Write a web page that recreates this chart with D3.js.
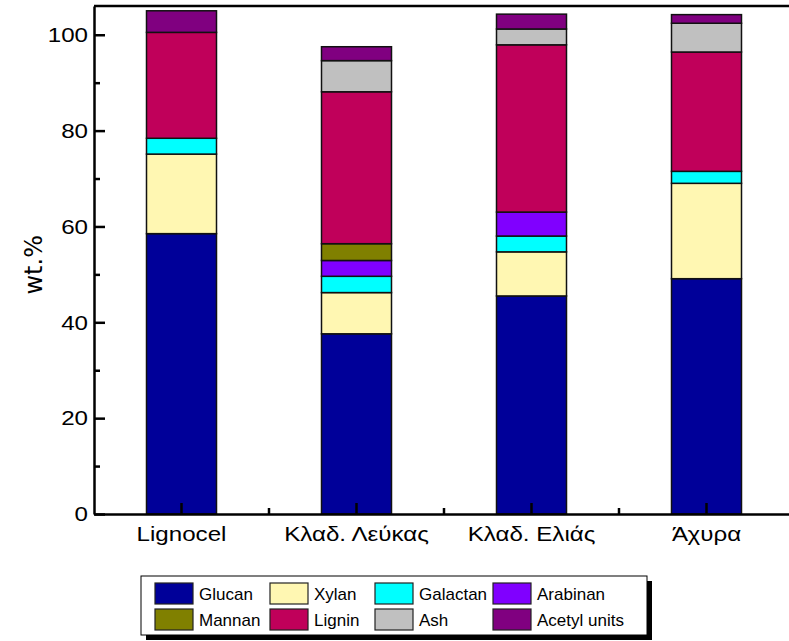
<!DOCTYPE html>
<html>
<head>
<meta charset="utf-8">
<script src="https://cdn.jsdelivr.net/npm/d3@7"></script>
<style>
  body { margin: 0; background: #fff; }
  svg { display: block; font-family: "Liberation Sans", Arial, sans-serif; }
</style>
</head>
<body>
<div id="chart-area"></div>
<script>
// samples on the x axis
const categories = ['Lignocel', 'Κλαδ. Λεύκας', 'Κλαδ. Ελιάς', 'Άχυρα'];

// components, bottom to top of each stack
const components = ['Glucan', 'Xylan', 'Galactan', 'Arabinan', 'Mannan', 'Lignin', 'Ash', 'Acetyl units'];
const colors = ['#000099', '#FFF7B2', '#00FFFF', '#8000FF', '#808000', '#C0005A', '#C0C0C0', '#800080'];

// wt.% per component, one value per sample (same order as categories)
const glucan   = [58.5, 37.6, 45.5, 49.1];
const xylan    = [16.6, 8.6, 9.2, 19.9];
const galactan = [3.3, 3.4, 3.3, 2.5];
const arabinan = [0, 3.3, 5.0, 0];
const mannan   = [0, 3.5, 0, 0];
const lignin   = [22.1, 31.7, 34.9, 24.9];
const ash      = [0, 6.5, 3.3, 6.0];
const acetyl   = [4.5, 2.9, 3.1, 1.8];

const yTicks = [0, 20, 40, 60, 80, 100];
const yMinorTicks = [10, 30, 50, 70, 90];

const seriesValues = [glucan, xylan, galactan, arabinan, mannan, lignin, ash, acetyl];

const margin = {left: 94, top: 6};
const width = 700;
const height = 508;
const stretch = 1.15; // axis labels in the original are a bit wide

const svg = d3.select('#chart-area')
    .append('svg')
    .attr('width', 789)
    .attr('height', 641);

const g = svg.append('g')
    .attr('transform', `translate(${margin.left}, ${margin.top})`);

// rows for the stack
const table = categories.map((c, i) => {
    const row = {name: c};
    components.forEach((k, j) => { row[k] = seriesValues[j][i]; });
    return row;
});
const stacked = d3.stack().keys(components)(table);

const x = d3.scaleBand()
    .domain(categories)
    .range([0, width])
    .padding(0);

const y = d3.scaleLinear()
    .domain([0, 106])
    .range([height, 0]);

const barW = x.bandwidth() * 0.4;

// bars
g.selectAll('.layer')
    .data(stacked)
    .enter().append('g')
        .attr('class', 'layer')
        .attr('fill', (d, i) => colors[i])
    .selectAll('rect')
    .data(d => d.filter(s => s[1] - s[0] > 0))
    .enter().append('rect')
        .attr('x', d => x(d.data.name) + (x.bandwidth() - barW) / 2)
        .attr('y', d => y(d[1]))
        .attr('width', barW)
        .attr('height', d => y(d[0]) - y(d[1]))
        .attr('stroke', '#111')
        .attr('stroke-width', 1.5);

// top frame line
g.append('line')
    .attr('x1', 0).attr('x2', width)
    .attr('y1', 0).attr('y2', 0)
    .attr('stroke', '#000')
    .attr('stroke-width', 2.5);

// y axis with inward ticks
const yAxisCall = d3.axisLeft(y)
    .tickValues(yTicks)
    .tickSizeInner(-11)
    .tickSizeOuter(0)
    .tickPadding(6);
const yAxis = g.append('g')
    .attr('class', 'y axis')
    .call(yAxisCall);
yAxis.select('.domain').attr('stroke-width', 2.5);
yAxis.selectAll('.tick line').attr('stroke-width', 2.5);
yAxis.selectAll('text')
    .attr('x', -6 / stretch)
    .attr('transform', `scale(${stretch}, 1)`)
    .attr('font-size', '21px')
    .attr('font-family', '"Liberation Sans", Arial, sans-serif')
    .attr('fill', '#000');

const yMinorCall = d3.axisLeft(y)
    .tickValues(yMinorTicks)
    .tickSizeInner(-6)
    .tickSizeOuter(0)
    .tickFormat('');
const yMinor = g.append('g').call(yMinorCall);
yMinor.select('.domain').remove();
yMinor.selectAll('.tick line').attr('stroke-width', 2.5);

// x axis
const xAxisCall = d3.axisBottom(x)
    .tickSizeInner(-11)
    .tickSizeOuter(0)
    .tickPadding(12);
const xAxis = g.append('g')
    .attr('class', 'x axis')
    .attr('transform', `translate(0, ${height})`)
    .call(xAxisCall);
xAxis.select('.domain').attr('stroke-width', 2.5);
xAxis.selectAll('.tick line').attr('stroke-width', 2.5);
xAxis.selectAll('text')
    .attr('transform', `scale(${stretch}, 1)`)
    .attr('font-size', '21px')
    .attr('font-family', '"Liberation Sans", Arial, sans-serif')
    .attr('fill', '#000');

// minor x ticks at the band boundaries
g.selectAll('.xminor')
    .data(categories.slice(1))
    .enter().append('line')
        .attr('class', 'xminor')
        .attr('x1', d => x(d)).attr('x2', d => x(d))
        .attr('y1', height).attr('y2', height - 6)
        .attr('stroke', '#000')
        .attr('stroke-width', 2.5);

// y axis title
svg.append('text')
    .attr('transform', `translate(42, ${margin.top + y(52)}) rotate(-90)`)
    .attr('text-anchor', 'middle')
    .attr('font-family', '"DejaVu Sans", sans-serif')
    .attr('font-size', '24px')
    .text('wt.%');

// legend
const legend = svg.append('g').attr('transform', 'translate(141, 576)');
legend.append('rect')
    .attr('x', 5).attr('y', 5)
    .attr('width', 506).attr('height', 59)
    .attr('fill', '#000');
legend.append('rect')
    .attr('x', 0).attr('y', 0)
    .attr('width', 506).attr('height', 59)
    .attr('fill', '#fff')
    .attr('stroke', '#000')
    .attr('stroke-width', 1);

const colX = [14, 129, 234, 352];
const rowY = [7, 33];
const items = legend.selectAll('.item')
    .data(components)
    .enter().append('g')
        .attr('class', 'item')
        .attr('transform', (d, i) => `translate(${colX[i % 4]}, ${rowY[Math.floor(i / 4)]})`);
items.append('rect')
    .attr('width', 38).attr('height', 21)
    .attr('fill', (d, i) => colors[i])
    .attr('stroke', '#222')
    .attr('stroke-width', 1.2);
items.append('text')
    .attr('x', 44).attr('y', 17)
    .attr('font-size', '17px')
    .text(d => d);
</script>
</body>
</html>
